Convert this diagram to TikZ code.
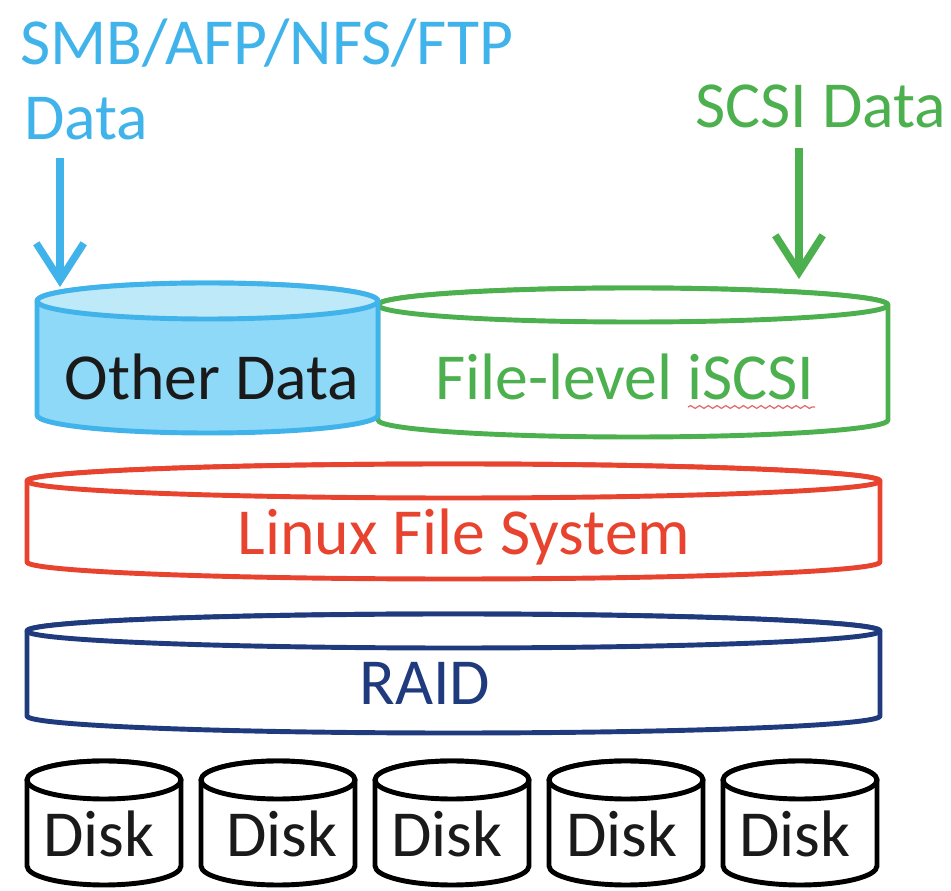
\documentclass[tikz,border=0pt]{standalone}
\usepackage{fontspec}
\setmainfont{Carlito}
\usetikzlibrary{arrows.meta,decorations.pathmorphing}
\definecolor{protoblue}{HTML}{3FB3EA}
\definecolor{bodyblue}{HTML}{8ED8F8}
\definecolor{lidblue}{HTML}{BEE9F9}
\definecolor{scsigreen}{HTML}{4DB04F}
\definecolor{fsred}{HTML}{E8432F}
\definecolor{raidnavy}{HTML}{1F3B7D}
\definecolor{inkdark}{HTML}{1A1A1A}
\definecolor{squiggle}{HTML}{E26A6A}

% draws a vertical drum: style, left x, right x, lid centre y, base centre y, lid y radius, lid fill
\newcommand\drum[7]{%
  \pgfmathsetmacro\drumrx{(#3-#2)/2}%
  \pgfmathsetmacro\drumcx{(#2+#3)/2}%
  \path[#1] (#2,-#4) -- (#2,-#5)
    arc[start angle=180,end angle=360,x radius=\drumrx,y radius=#6]
    -- (#3,-#4)
    arc[start angle=0,end angle=180,x radius=\drumrx,y radius=#6] -- cycle;
  \path[#1,fill=#7] (\drumcx,-#4) ellipse[x radius=\drumrx,y radius=#6];
}

\tikzset{
  lbl/.style={font=\fontsize{37.4}{44}\selectfont, inner sep=0pt},
  shell/.style={draw, line width=2.8pt, line join=round},
  feed/.style={line width=4.2pt, -{Straight Barb[length=21pt,width=27pt]}},
}

\begin{document}
\begin{tikzpicture}[x=0.02cm,y=0.02cm]
  \useasboundingbox[fill=white] (0,0) rectangle (951,-891);

  % incoming data labels
  \node[lbl, text=protoblue, anchor=base west] (proto) at (20,-65) {SMB/AFP/NFS/FTP};
  \node[lbl, text=protoblue, anchor=base west] (protodata) at (24,-140) {Data};
  \node[lbl, text=scsigreen, anchor=base west] (scsidata) at (695,-128) {SCSI Data};

  % file-level iSCSI drum, then the share drum on top of its left edge
  \drum{shell, draw=scsigreen, fill=white}{378}{888}{305}{420}{17}{white}
  \drum{shell, draw=protoblue, fill=bodyblue}{37}{378}{301}{415}{18}{lidblue}
  \node[lbl, text=inkdark, anchor=base] (other) at (212,-400) {Other Data};
  \node[lbl, text=scsigreen, anchor=base] (iscsi) at (625,-400) {File-level iSCSI};
  \coordinate (sqA) at (688,-407);
  \coordinate (sqB) at (815,-407);
  \draw[squiggle, line width=0.7pt, decorate,
        decoration={snake, segment length=5pt, amplitude=0.8pt}] (sqA) -- (sqB);

  % file system and RAID layers
  \drum{shell, draw=fsred, fill=white}{27}{880}{481}{562}{17}{white}
  \node[lbl, text=fsred, anchor=base] (fs) at (464,-555) {Linux File System};
  \drum{shell, draw=raidnavy, fill=white}{27}{880}{631}{716}{17}{white}
  \node[lbl, text=raidnavy, anchor=base] (raid) at (425,-705) {RAID};

  % member disks
  \foreach \k/\tx in {0/99,1/282,2/447,3/622,4/795}{
    \pgfmathsetmacro\dl{27+174*\k}
    \pgfmathsetmacro\dr{\dl+154}
    \drum{shell, draw=black, fill=white}{\dl}{\dr}{780}{866}{19}{white}
    \node[lbl, text=inkdark, anchor=base] (disk\k) at (\tx,-857) {Disk};
  }

  % data arrows into the top layer
  \coordinate (shareIn) at (60,-287);
  \coordinate (iscsiIn) at (799,-279);
  \coordinate (shareOut) at (60,-158);
  \coordinate (iscsiOut) at (799,-148);
  \draw[feed, protoblue] (shareOut) -- (shareIn);
  \draw[feed, scsigreen] (iscsiOut) -- (iscsiIn);
\end{tikzpicture}
\end{document}
